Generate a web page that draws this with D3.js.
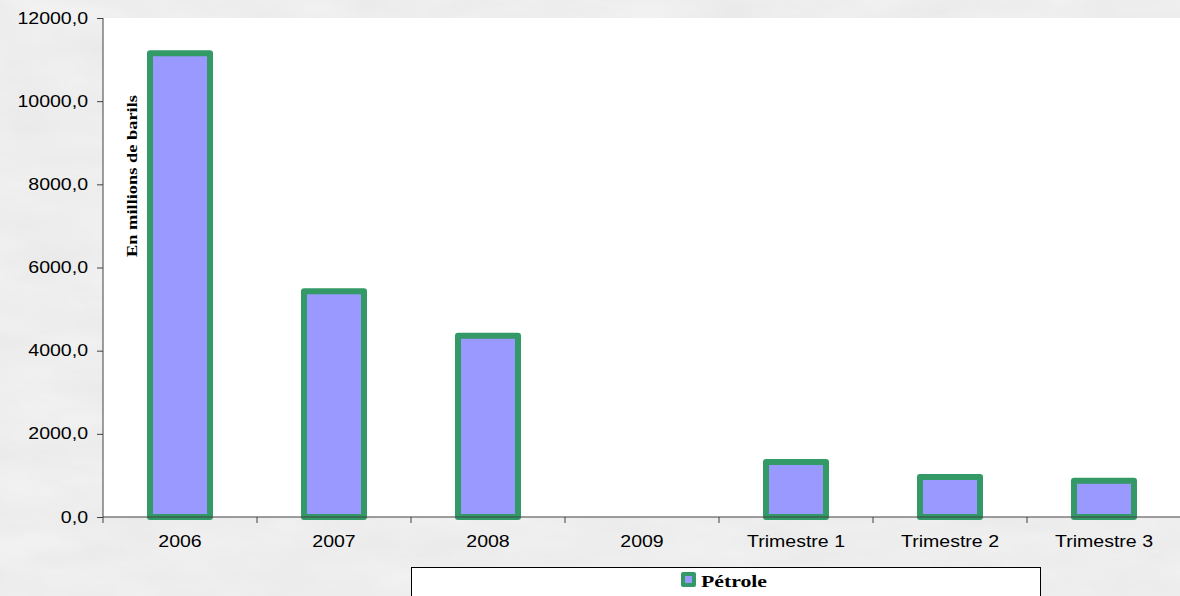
<!DOCTYPE html>
<html>
<head>
<meta charset="utf-8">
<script src="https://cdn.jsdelivr.net/npm/d3@7"></script>
<style>
  body { margin: 0; }
  svg { display: block; }
</style>
</head>
<body>
<script>
// categories and values (millions de barils)
var categories = ["2006", "2007", "2008", "2009", "Trimestre 1", "Trimestre 2", "Trimestre 3"];
var petrole = [11150, 5430, 4360, 0, 1320, 960, 870];
var yTicks = [0, 2000, 4000, 6000, 8000, 10000, 12000];

var svgWidth = 1180;
var svgHeight = 596;
var margin = { top: 18, right: -1, bottom: 79, left: 103 };
var width = svgWidth - margin.left - margin.right;
var height = svgHeight - margin.top - margin.bottom;

// text in the original is stretched horizontally a bit
function stretch(sel, k) {
  sel.each(function() {
    var w = this.getComputedTextLength();
    d3.select(this).attr("textLength", w * k).attr("lengthAdjust", "spacingAndGlyphs");
  });
}

var svg = d3.select("body")
  .append("svg")
  .attr("width", svgWidth)
  .attr("height", svgHeight);

// marble-like background
var defs = svg.append("defs");
var filt = defs.append("filter").attr("id", "marble").attr("x", 0).attr("y", 0).attr("width", "100%").attr("height", "100%");
filt.append("feTurbulence").attr("type", "fractalNoise").attr("baseFrequency", "0.012 0.03").attr("numOctaves", 4).attr("seed", 3);
filt.append("feColorMatrix").attr("type", "matrix")
  .attr("values", "0 0 0 0 0.5  0 0 0 0 0.5  0 0 0 0 0.5  0.12 0.12 0.12 0 -0.12");

svg.append("rect").attr("width", svgWidth).attr("height", svgHeight).attr("fill", "#f1f1f1");
svg.append("rect").attr("width", svgWidth).attr("height", svgHeight).attr("filter", "url(#marble)");

var chart = svg.append("g")
  .attr("transform", "translate(" + margin.left + "," + margin.top + ")");

// plot area
chart.append("rect")
  .attr("width", width)
  .attr("height", height)
  .attr("fill", "#ffffff");

var xScale = d3.scaleBand()
  .domain(categories)
  .range([0, width]);

var yScale = d3.scaleLinear()
  .domain([0, 12000])
  .range([height, 0]);

var barW = 60;

chart.selectAll(".bar")
  .data(petrole)
  .enter()
  .append("rect")
  .attr("class", "bar")
  .attr("x", function(d, i) { return xScale(categories[i]) + xScale.bandwidth() / 2 - barW / 2; })
  .attr("y", function(d) { return yScale(d); })
  .attr("width", barW)
  .attr("height", function(d) { return height - yScale(d); })
  .attr("fill", "#9999ff")
  .attr("stroke", "#339966")
  .attr("stroke-width", 6)
  .attr("stroke-linejoin", "round")
  .style("display", function(d) { return d > 0 ? null : "none"; });

// y axis
var leftAxis = d3.axisLeft(yScale)
  .tickValues(yTicks)
  .tickSize(6)
  .tickFormat(function(d) { return d3.format(".1f")(d).replace(".", ","); });

var gy = chart.append("g").call(leftAxis);
gy.select(".domain").attr("stroke", "#404040").attr("d", "M0,0V" + height);
gy.selectAll(".tick line").attr("stroke", "#404040");
gy.selectAll(".tick text")
  .attr("x", -15)
  .style("font-family", "Arial, 'Liberation Sans', sans-serif")
  .style("font-size", "16px")
  .attr("fill", "#000")
  .call(stretch, 1.22);

// x axis
var bottomAxis = d3.axisBottom(xScale).tickSize(0).tickPadding(18);
var gx = chart.append("g").attr("transform", "translate(0," + height + ")").call(bottomAxis);
gx.select(".domain").attr("stroke", "#404040").attr("d", "M0,0H" + width);
gx.selectAll(".tick text")
  .attr("dy", null)
  .attr("y", 30)
  .style("font-family", "Arial, 'Liberation Sans', sans-serif")
  .style("font-size", "16px")
  .attr("fill", "#000")
  .call(stretch, 1.22);

// category separators
chart.selectAll(".sep")
  .data(categories.concat(["end"]))
  .enter()
  .append("line")
  .attr("x1", function(d, i) { return i * xScale.bandwidth(); })
  .attr("x2", function(d, i) { return i * xScale.bandwidth(); })
  .attr("y1", height)
  .attr("y2", height + 6)
  .attr("stroke", "#404040");

// y axis title
svg.append("text")
  .attr("transform", "translate(137,176) rotate(-90)")
  .attr("text-anchor", "middle")
  .style("font-family", "'Times New Roman', 'Liberation Serif', serif")
  .style("font-weight", "bold")
  .style("font-size", "15px")
  .attr("textLength", 162)
  .attr("lengthAdjust", "spacingAndGlyphs")
  .text("En millions de barils");

// legend
var legend = svg.append("g").attr("transform", "translate(411,567)");
legend.append("rect")
  .attr("x", 0.5).attr("y", 0.5)
  .attr("width", 629).attr("height", 36)
  .attr("fill", "#fff")
  .attr("stroke", "#000");
legend.append("rect")
  .attr("x", 272).attr("y", 7)
  .attr("width", 11).attr("height", 11)
  .attr("fill", "#9999ff")
  .attr("stroke", "#339966")
  .attr("stroke-width", 4)
  .attr("stroke-linejoin", "round");
legend.append("text")
  .attr("x", 290).attr("y", 20)
  .style("font-family", "'Times New Roman', 'Liberation Serif', serif")
  .style("font-weight", "bold")
  .style("font-size", "17px")
  .attr("textLength", 66)
  .attr("lengthAdjust", "spacingAndGlyphs")
  .text("Pétrole");
</script>
</body>
</html>
